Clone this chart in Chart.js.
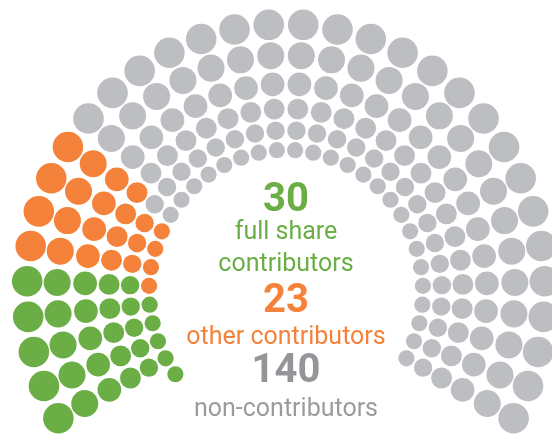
<!DOCTYPE html>
<html>
<head>
<meta charset="utf-8">
<script src="https://cdn.jsdelivr.net/npm/chart.js@4"></script>
<style>
  html, body { margin: 0; padding: 0; background: #ffffff; }
  #wrap { position: relative; width: 552px; height: 434px; }
</style>
</head>
<body>
<div id="wrap"><canvas id="c"></canvas></div>
<script>
// ---- data ----
const categories = ['full share contributors', 'other contributors', 'non-contributors'];
const labelLines = [['full share', 'contributors'], ['other contributors'], ['non-contributors']];
const counts = [30, 23, 140];

// ---- styles ----
const dotColors = ['#6aae45', '#f5823a', '#bdbec1'];
const numColors = ['#6aae45', '#f5823a', '#949598'];
const textColors = ['#6aae45', '#f5823a', '#9a9b9d'];

// ---- parliament layout (rays of seats, outer -> inner) ----
const CX = 286, CY = 291, KY = 1.03;
const rowRadii = [259, 229, 201, 177, 156, 137];
const nRays = 32;
const startDeg = 208.5, endDeg = -28.5;
const stepDeg = (startDeg - endDeg) / (nRays - 1);
const dotScale = 0.059;

function seat(rayIndex, rowIndex) {
  const a = (startDeg - rayIndex * stepDeg) * Math.PI / 180;
  const R = rowRadii[rowIndex];
  return { x: CX + R * Math.cos(a), y: CY - KY * R * Math.sin(a), r: R * dotScale };
}

const total = counts.reduce((s, v) => s + v, 0);
const seats = [];
const extra = total - nRays * rowRadii.length;
for (let e = extra; e >= 1; e--) seats.push(seat(-e, rowRadii.length - 1));
for (let j = 0; j < nRays; j++) {
  for (let i = 0; i < rowRadii.length; i++) seats.push(seat(j, i));
}

let k = 0;
const datasets = categories.map((name, ci) => {
  const pts = seats.slice(k, k + counts[ci]);
  k += counts[ci];
  return {
    label: name,
    data: pts,
    backgroundColor: dotColors[ci],
    borderWidth: 0,
    hoverBorderWidth: 0,
    hoverRadius: 0
  };
});

const centerText = {
  id: 'centerText',
  afterDraw(chart) {
    const ctx = chart.ctx;
    ctx.save();
    ctx.textAlign = 'center';
    ctx.textBaseline = 'alphabetic';
    const blocks = [
      { num: 211, lines: [239, 271] },
      { num: 312, lines: [344] },
      { num: 382, lines: [416] }
    ];
    blocks.forEach((b, ci) => {
      ctx.fillStyle = numColors[ci];
      ctx.font = 'bold 40px Roboto';
      ctx.fillText(String(counts[ci]), CX, b.num);
      ctx.fillStyle = textColors[ci];
      ctx.font = '25px Roboto';
      labelLines[ci].forEach((t, li) => ctx.fillText(t, CX, b.lines[li]));
    });
    ctx.restore();
  }
};

new Chart(document.getElementById('c'), {
  type: 'bubble',
  data: { datasets },
  options: {
    responsive: true,
    maintainAspectRatio: false,
    animation: false,
    layout: { padding: 0, autoPadding: false },
    plugins: { legend: { display: false }, tooltip: { enabled: false } },
    scales: {
      x: { type: 'linear', min: 0, max: 552, display: false },
      y: { type: 'linear', min: 0, max: 434, reverse: true, display: false }
    }
  },
  plugins: [centerText]
});
</script>
</body>
</html>
